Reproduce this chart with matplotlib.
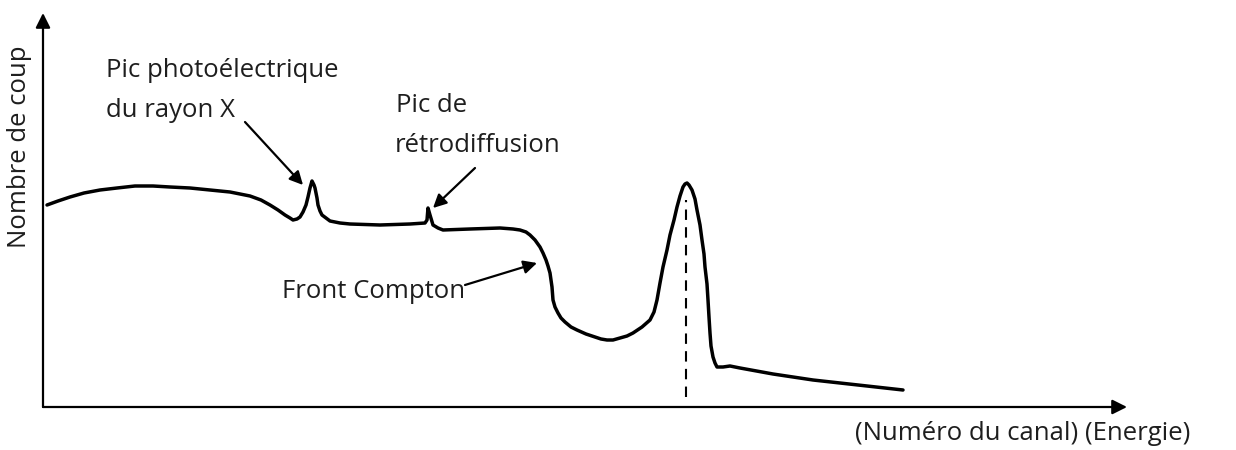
import matplotlib.pyplot as plt

# spectre gamma schématique : numéro du canal / nombre de coups
canal = [4, 15, 27, 41, 57, 74, 92, 110, 127, 147, 167, 187, 207, 218, 227,
         235, 242, 247, 250, 254, 257, 260, 263, 265, 267, 269, 271, 272, 274,
         275, 277, 279, 283, 287, 297, 307, 337, 367, 382, 384, 385, 387, 390,
         395, 400, 427, 457, 470, 477, 483, 487, 492, 497, 500, 503, 505, 507,
         509, 510, 512, 515, 518, 522, 528, 534, 543, 552, 558, 564, 570, 577,
         584, 590, 599, 607, 611, 614, 617, 620, 624, 627, 631, 634, 637, 640,
         642, 644, 646, 649, 652, 654, 657, 659, 661, 662, 664, 665, 666, 667,
         668, 670, 672, 674, 680, 687, 692, 697, 730, 770, 815, 860]
coups = [202, 206, 210, 214, 217, 219, 221, 221, 220, 219, 217, 215, 211, 207,
         202, 197, 192, 189, 187, 188, 190, 195, 202, 210, 219, 226, 222, 219,
         209, 202, 196, 192, 189, 186, 184, 183, 182, 183, 184, 187, 199, 192,
         182, 179, 177, 178, 179, 178, 177, 175, 172, 167, 160, 154, 147, 141,
         134, 120, 107, 100, 94, 89, 85, 80, 77, 73, 70, 68, 67, 67, 69, 71,
         74, 80, 87, 95, 107, 124, 140, 157, 172, 187, 200, 211, 220, 223, 224,
         222, 217, 208, 197, 182, 167, 153, 140, 123, 107, 90, 74, 61, 50, 44,
         40, 40, 41, 40, 39, 33, 27, 22, 17]

pic_total = 643
x_max, y_max = 1084, 394

txt_color = '#1e1e1e'
plt.rcParams['font.family'] = ['Open Sans', 'DejaVu Sans']

fig = plt.figure(figsize=(12.36, 4.5), dpi=100)
ax = fig.add_axes([43 / 1236, 43 / 450, 1084 / 1236, 394 / 450])
ax.set_xlim(0, x_max)
ax.set_ylim(0, y_max)
ax.axis('off')

# axes avec flèches
ax.annotate('', xy=(0, 1), xytext=(0, 0), xycoords='axes fraction',
            arrowprops=dict(arrowstyle='-|>', color='black', lw=1.6,
                            mutation_scale=22, shrinkA=0, shrinkB=0))
ax.annotate('', xy=(1, 0), xytext=(0, 0), xycoords='axes fraction',
            arrowprops=dict(arrowstyle='-|>', color='black', lw=1.6,
                            mutation_scale=22, shrinkA=0, shrinkB=0))

ax.plot(canal, coups, color='black', lw=2.5, solid_joinstyle='round',
        solid_capstyle='round')
ax.vlines(pic_total, 10, 207, colors='black', linestyles=(0, (5, 3.5)), lw=1.5)

fs = 18.5
ax.text(63, 337, 'Pic photoélectrique', fontsize=fs, color=txt_color, va='center')
ax.text(63, 297, 'du rayon X', fontsize=fs, color=txt_color, va='center')
ax.text(353, 302, 'Pic de', fontsize=fs, color=txt_color, va='center')
ax.text(352, 262, 'rétrodiffusion', fontsize=fs, color=txt_color, va='center')
ax.text(239, 115, 'Front Compton', fontsize=fs, color=txt_color, va='center')
ax.text(1147, -26, '(Numéro du canal) (Energie)', fontsize=fs, color=txt_color,
        ha='right', va='center', clip_on=False)
ax.text(-23, 260, 'Nombre de coup', fontsize=fs, color=txt_color, rotation=90,
        ha='center', va='center', clip_on=False)

arrow = dict(arrowstyle='-|>', color='black', lw=1.6, mutation_scale=20,
             shrinkA=0, shrinkB=0)
ax.annotate('', xy=(260, 222), xytext=(202, 285), arrowprops=arrow)
ax.annotate('', xy=(390, 199), xytext=(432, 239), arrowprops=arrow)
ax.annotate('', xy=(494, 144), xytext=(422, 122), arrowprops=arrow)

fig.savefig('out.png', dpi=100)
